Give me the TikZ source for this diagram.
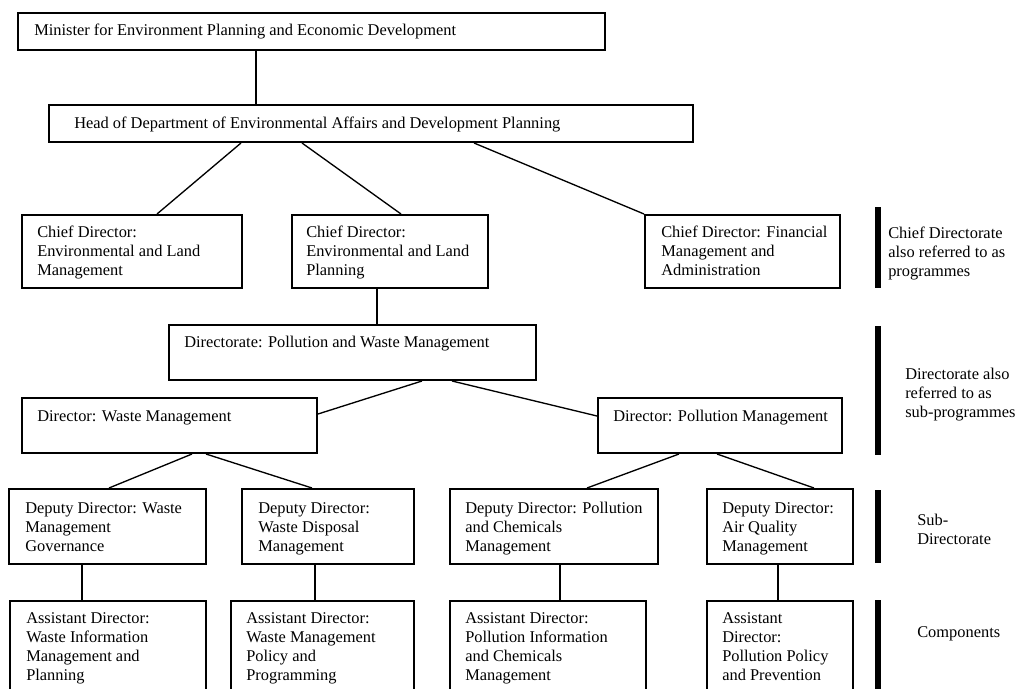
\documentclass[tikz,border=0pt]{standalone}
\usepackage{fontspec}
\setmainfont{Liberation Serif}
\usetikzlibrary{calc,fit}

% left-aligned lines whose baseline is that of the first line
\newcommand\txtlines[1]{\begin{tabular}[t]{@{}l@{}}#1\end{tabular}}

\tikzset{
  box/.style={draw=black, line width=1.5pt, inner sep=0pt, fill=none},
  txt/.style={anchor=base west, inner sep=0pt, text=black,
              font=\fontsize{12.3pt}{14.25pt}\selectfont},
  link/.style={draw=black, line width=1pt},
  bar/.style={draw=black, line width=3.8pt},
}

\begin{document}
\begin{tikzpicture}[x=0.75pt, y=-0.75pt]
\clip (0,0) rectangle (1023,688);
\fill[white] (0,0) rectangle (1023,688);

% ---- top level ----
\node[box, fit={(18,13) (605,50)}] (mini) {};
\node[txt] (miniT) at ($(mini.north west)+(17,24)$)
  {Minister for Environment Planning and Economic Development};

\node[box, fit={(49,105) (693,142)}] (head) {};
\node[txt] (headT) at ($(head.north west)+(26,24)$)
  {Head of Department of Environmental Affairs and Development Planning};

\draw[link] ($(mini.south west)+(239,0)$) -- ($(head.north west)+(208,0)$);

% ---- chief directorates ----
\node[box, fit={(22,215) (242,288)}] (cd1) {};
\node[txt] (cd1T) at ($(cd1.north west)+(16,23)$)
  {\txtlines{Chief Director:\\Environmental and Land\\Management}};

\node[box, fit={(292,215) (488,288)}] (cd2) {};
\node[txt] (cd2T) at ($(cd2.north west)+(15,23)$)
  {\txtlines{Chief Director:\\Environmental and Land\\Planning}};

\node[box, fit={(645,215) (840,288)}] (cd3) {};
\node[txt] (cd3T) at ($(cd3.north west)+(17,23)$)
  {\txtlines{Chief Director: Financial\\Management and\\Administration}};

\draw[link] ($(head.south west)+(193,0)$) -- ($(cd1.north west)+(136,0)$);
\draw[link] ($(head.south west)+(254,0)$) -- ($(cd2.north west)+(110,0)$);
\draw[link] ($(head.south west)+(426,0)$) -- (cd3.north west);

% ---- directorate ----
\node[box, fit={(169,325) (536,380)}] (dir) {};
\node[txt] (dirT) at ($(dir.north west)+(16,23)$)
  {Directorate: Pollution and Waste Management};
\draw[link] ($(cd2.south west)+(86,0)$) -- ($(dir.north west)+(209,0)$);

\node[box, fit={(22,398) (317,453)}] (dwm) {};
\node[txt] (dwmT) at ($(dwm.north west)+(16,24)$) {Director: Waste Management};

\node[box, fit={(598,398) (842,453)}] (dpm) {};
\node[txt] (dpmT) at ($(dpm.north west)+(16,24)$) {Director: Pollution Management};

\draw[link] ($(dir.south west)+(254,0)$) -- ($(dwm.north east)+(0,17)$);
\draw[link] ($(dir.south west)+(284,0)$) -- ($(dpm.north west)+(0,19)$);

% ---- deputy directors ----
\node[box, fit={(9,489) (206,564)}] (dd1) {};
\node[txt] (dd1T) at ($(dd1.north west)+(17,25)$)
  {\txtlines{Deputy Director: Waste\\Management\\Governance}};

\node[box, fit={(242,489) (414,564)}] (dd2) {};
\node[txt] (dd2T) at ($(dd2.north west)+(17,25)$)
  {\txtlines{Deputy Director:\\Waste Disposal\\Management}};

\node[box, fit={(450,489) (658,564)}] (dd3) {};
\node[txt] (dd3T) at ($(dd3.north west)+(16,25)$)
  {\txtlines{Deputy Director: Pollution\\and Chemicals\\Management}};

\node[box, fit={(707,489) (853,564)}] (dd4) {};
\node[txt] (dd4T) at ($(dd4.north west)+(16,25)$)
  {\txtlines{Deputy Director:\\Air Quality\\Management}};

\draw[link] ($(dwm.south west)+(171,0)$) -- ($(dd1.north west)+(101,0)$);
\draw[link] ($(dwm.south west)+(185,0)$) -- ($(dd2.north west)+(71,0)$);
\draw[link] ($(dpm.south west)+(82,0)$) -- ($(dd3.north west)+(138,0)$);
\draw[link] ($(dpm.south west)+(120,0)$) -- ($(dd4.north west)+(108,0)$);

% ---- assistant directors ----
\node[box, fit={(10,601) (206,700)}] (ad1) {};
\node[txt] (ad1T) at ($(ad1.north west)+(17,23)$)
  {\txtlines{Assistant Director:\\Waste Information\\Management and\\Planning}};

\node[box, fit={(231,601) (414,700)}] (ad2) {};
\node[txt] (ad2T) at ($(ad2.north west)+(16,23)$)
  {\txtlines{Assistant Director:\\Waste Management\\Policy and\\Programming}};

\node[box, fit={(450,601) (646,700)}] (ad3) {};
\node[txt] (ad3T) at ($(ad3.north west)+(16,23)$)
  {\txtlines{Assistant Director:\\Pollution Information\\and Chemicals\\Management}};

\node[box, fit={(707,601) (853,700)}] (ad4) {};
\node[txt] (ad4T) at ($(ad4.north west)+(16,23)$)
  {\txtlines{Assistant\\Director:\\Pollution Policy\\and Prevention}};

\draw[link] ($(dd1.south west)+(74,0)$) -- ($(ad1.north west)+(73,0)$);
\draw[link] ($(dd2.south west)+(74,0)$) -- ($(ad2.north west)+(85,0)$);
\draw[link] ($(dd3.south west)+(111,0)$) -- ($(ad3.north west)+(111,0)$);
\draw[link] ($(dd4.south west)+(72,0)$) -- ($(ad4.north west)+(72,0)$);

% ---- level markers and captions ----
\draw[bar] (878,207) -- (878,288);
\node[txt] (lvl1) at (888,238) {\txtlines{Chief Directorate\\also referred to as\\programmes}};

\draw[bar] (878,326) -- (878,455);
\node[txt] (lvl2) at (905,379) {\txtlines{Directorate also\\referred to as\\sub-programmes}};

\draw[bar] (878,490) -- (878,563);
\node[txt] (lvl3) at (917,525) {\txtlines{Sub-\\Directorate}};

\draw[bar] (878,600) -- (878,700);
\node[txt] (lvl4) at (917,637) {Components};
\end{tikzpicture}
\end{document}
